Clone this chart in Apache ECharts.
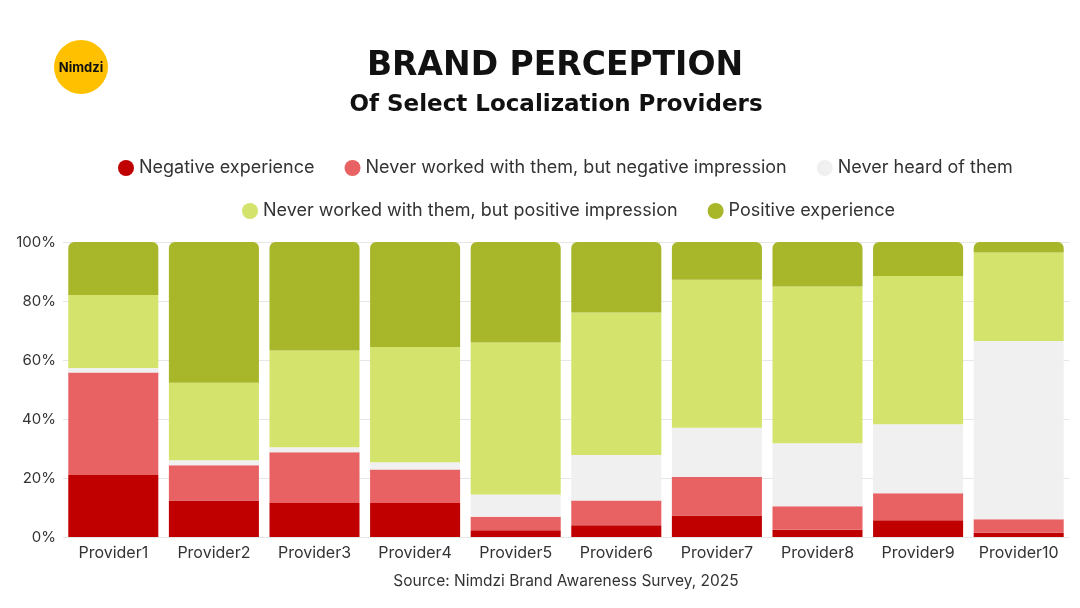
<!DOCTYPE html>
<html>
<head>
<meta charset="utf-8">
<script src="https://cdn.jsdelivr.net/npm/echarts@6/dist/echarts.min.js"></script>
<style>
html,body{margin:0;padding:0;background:#fff;}
#chart{width:1080px;height:608px;}
</style>
</head>
<body>
<div id="chart"></div>
<script>
const categories = ['Provider1','Provider2','Provider3','Provider4','Provider5','Provider6','Provider7','Provider8','Provider9','Provider10'];
const seriesNames = ['Negative experience','Never worked with them, but negative impression','Never heard of them','Never worked with them, but positive impression','Positive experience'];
const negativeExperience = [21.0, 12.4, 11.5, 11.5, 2.3, 4.0, 7.3, 2.5, 5.7, 1.4];
const negativeImpression = [34.8, 11.9, 17.2, 11.4, 4.6, 8.4, 13.0, 7.9, 9.1, 4.6];
const neverHeard = [1.5, 1.7, 1.7, 2.4, 7.5, 15.4, 16.7, 21.4, 23.4, 60.4];
const positiveImpression = [24.7, 26.3, 32.8, 39.1, 51.5, 48.3, 50.2, 53.1, 50.3, 30.0];
const positiveExperience = [18.0, 47.7, 36.8, 35.6, 34.1, 23.9, 12.8, 15.1, 11.5, 3.6];
const yTicks = [0, 20, 40, 60, 80, 100];

const colors = ['#C00000', '#E86264', '#F0F0F0', '#D4E36C', '#A8B72A'];
const values = [negativeExperience, negativeImpression, neverHeard, positiveImpression, positiveExperience];
const FONT = 'Inter, "Noto Sans", sans-serif';
const TFONT = '"DejaVu Sans", Inter, sans-serif';

const chart = echarts.init(document.getElementById('chart'));
const series = seriesNames.map((name, i) => ({
  name: name,
  type: 'bar',
  stack: 'total',
  barCategoryGap: '10.5%',
  data: values[i],
  itemStyle: {
    color: colors[i],
    borderRadius: i === 4 ? [6, 6, 0, 0] : 0
  },
  emphasis: {disabled: true}
}));

const legendCommon = {
  icon: 'circle',
  itemWidth: 16,
  itemHeight: 16,
  itemGap: 30,
  textStyle: {fontFamily: FONT, fontSize: 18, color: '#333'}
};

chart.setOption({
  animation: false,
  legend: [
    Object.assign({}, legendCommon, {top: 154, left: 113, data: seriesNames.slice(0, 3)}),
    Object.assign({}, legendCommon, {top: 197, left: 237, data: seriesNames.slice(3)})
  ],
  grid: {left: 63, right: 11, top: 242, bottom: 71, containLabel: false},
  xAxis: {
    type: 'category',
    data: categories,
    axisLine: {show: false},
    axisTick: {show: false},
    axisLabel: {fontFamily: FONT, fontSize: 16, color: '#333', margin: 8, interval: 0}
  },
  yAxis: {
    type: 'value',
    min: 0, max: 100, interval: 20,
    axisLine: {show: false},
    axisTick: {show: false},
    splitLine: {lineStyle: {color: '#E6E6E6', width: 1}},
    axisLabel: {fontFamily: FONT, fontSize: 15, color: '#333', margin: 7,
      formatter: v => yTicks.includes(v) ? v + '%' : ''}
  },
  graphic: [
    {type: 'circle', shape: {cx: 81, cy: 67, r: 27}, style: {fill: '#FFC000'}},
    {type: 'text', x: 81, y: 68, style: {text: 'Nimdzi', fill: '#111', font: 'bold 13px ' + FONT, align: 'center', verticalAlign: 'middle'}},
    {type: 'text', x: 555, y: 66, style: {text: 'BRAND PERCEPTION', fill: '#111', font: 'bold 33px ' + TFONT, align: 'center', verticalAlign: 'middle'}},
    {type: 'text', x: 556, y: 105, style: {text: 'Of Select Localization Providers', fill: '#111', font: 'bold 23px ' + TFONT, align: 'center', verticalAlign: 'middle'}},
    {type: 'text', x: 566, y: 581, style: {text: 'Source: Nimdzi Brand Awareness Survey, 2025', fill: '#333', font: '15.5px ' + FONT, align: 'center', verticalAlign: 'middle'}}
  ],
  series: series
});
</script>
</body>
</html>
